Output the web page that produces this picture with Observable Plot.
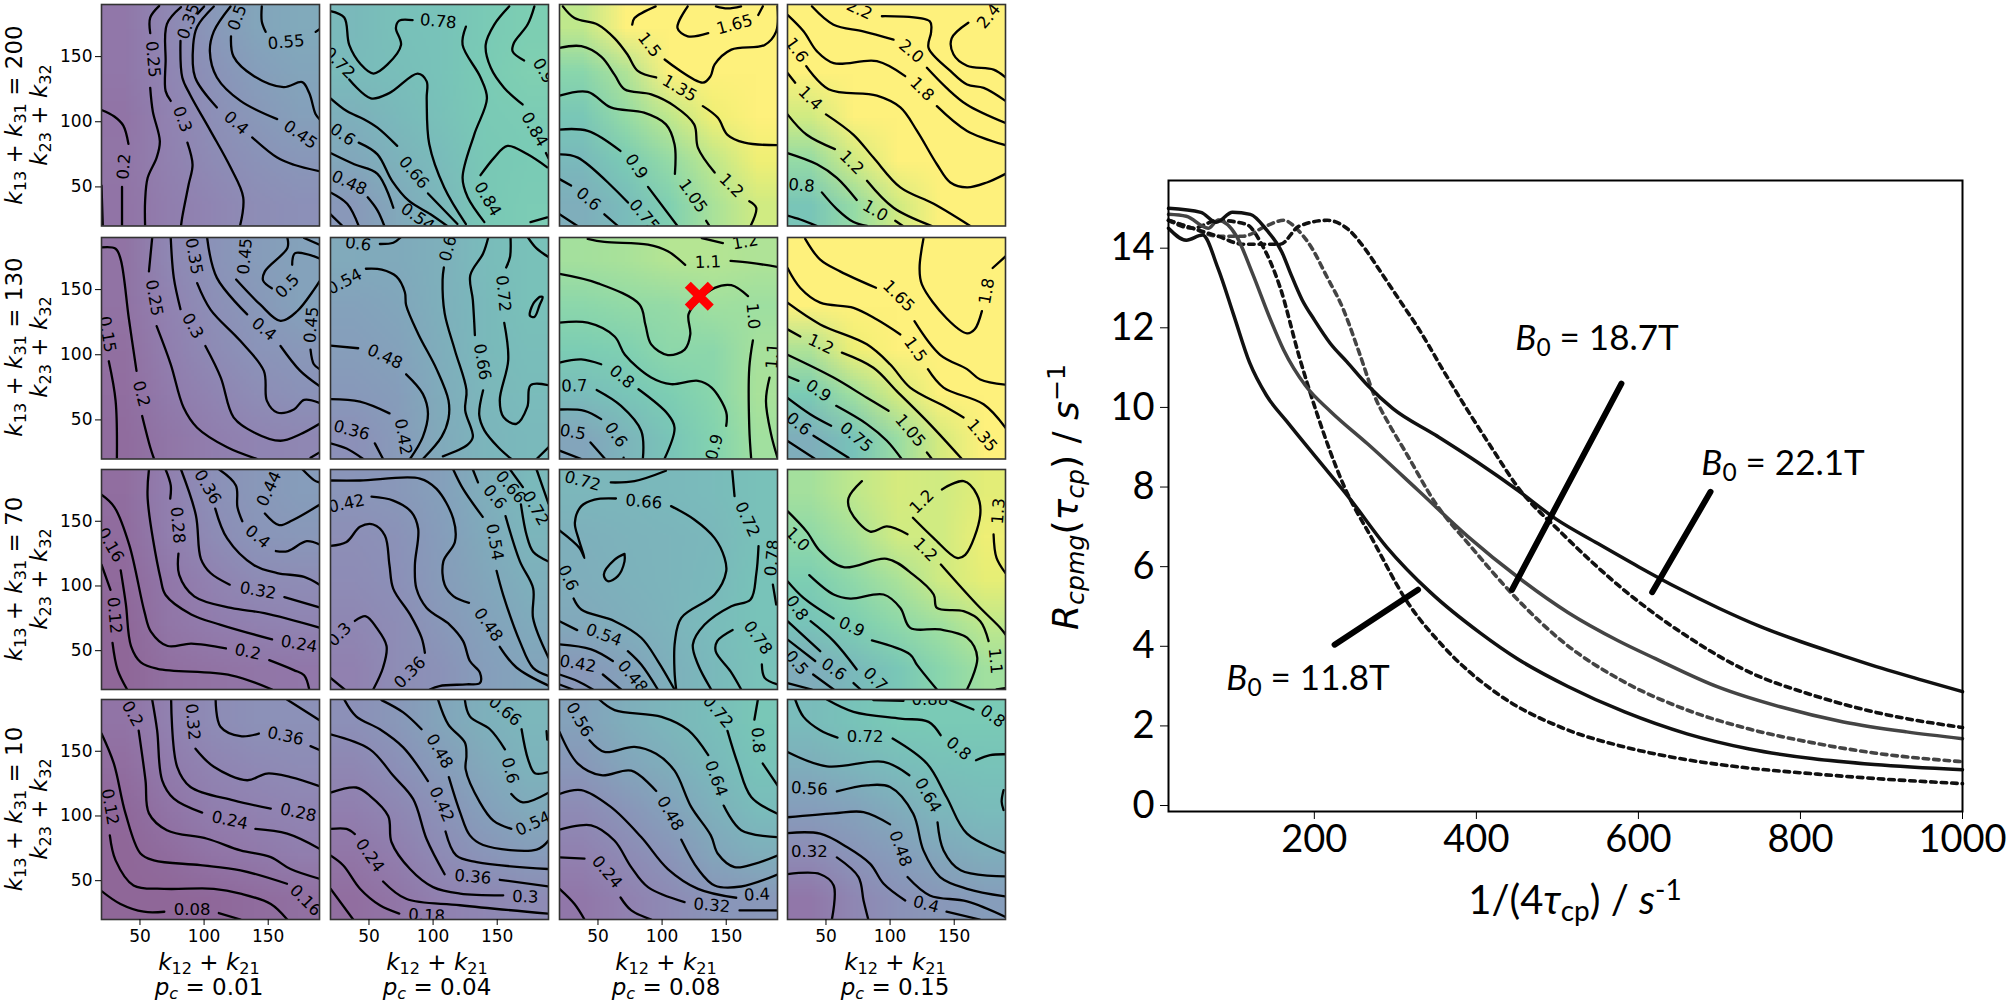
<!DOCTYPE html>
<html><head><meta charset="utf-8">
<script src="https://cdn.jsdelivr.net/npm/d3@7"></script>
<script src="https://cdn.jsdelivr.net/npm/@observablehq/plot@0.6"></script>
<style>
html,body{margin:0;padding:0;background:#fff}
#fig{position:relative;width:2010px;height:1008px;overflow:hidden;background:#fff}
#fig>svg,#fig>figure{position:absolute;margin:0}
.t{position:absolute;white-space:nowrap;transform:translate(-50%,-50%);font-family:"DejaVu Sans";font-size:23px;color:#000;line-height:1}
.t.r{transform:translate(-50%,-50%) rotate(-90deg)}
.t sub{font-size:.7em;vertical-align:-.25em;line-height:0}
.t sup{font-size:.7em;vertical-align:.5em;line-height:0}
.a{font-family:Lato;font-size:35px}
</style></head><body><div id="fig"></div>
<script>
// Field values on a 5x5 grid, top row first
const gR1C1=[.2,.3,.42,.52,.56, .2,.29,.38,.47,.52, .18,.27,.35,.42,.48, .19,.26,.32,.38,.41, .18,.24,.29,.34,.36];
const gR1C2=[.7,.76,.78,.84,.88, .72,.74,.78,.85,.9, .62,.7,.76,.84,.86, .54,.63,.72,.83,.85, .42,.55,.68,.83,.86];
const gR1C3=[1.15,1.35,1.5,1.6,1.65, .95,1.1,1.35,1.5,1.55, .82,1,1.15,1.3,1.4, .7,.85,1,1.15,1.3, .6,.72,.9,1.08,1.2];
const gR1C4=[1.7,2,2.1,2.3,2.4, 1.5,1.7,1.9,2.2,2.4, 1.2,1.45,1.7,1.9,2, 1,1.2,1.45,1.6,1.7, .8,1,1.2,1.4,1.5];
const gR2C1=[.17,.3,.38,.45,.5, .17,.27,.35,.42,.5, .15,.25,.32,.39,.42, .14,.22,.28,.34,.38, .13,.19,.24,.28,.3];
const gR2C2=[.56,.57,.62,.72,.76, .5,.53,.62,.7,.76, .47,.5,.6,.7,.74, .43,.46,.58,.68,.72, .36,.44,.56,.66,.7];
const gR2C3=[1.06,1.08,1.12,1.12,1.1, .96,.99,1,1.05,1.04, .87,.9,.97,.96,1.07, .72,.8,.88,.95,1.08, .52,.65,.8,.92,1.05];
const gR2C4=[1.6,1.7,1.85,1.85,1.8, 1.35,1.5,1.7,1.8,1.85, 1.1,1.3,1.5,1.65,1.8, .85,1.05,1.22,1.45,1.55, .6,.78,1.02,1.22,1.35];
const gR3C1=[.14,.25,.36,.42,.46, .13,.24,.32,.4,.42, .12,.2,.27,.32,.34, .1,.19,.23,.26,.28, .1,.15,.17,.19,.2];
const gR3C2=[.4,.42,.48,.6,.7, .35,.38,.46,.57,.66, .33,.36,.45,.53,.62, .3,.34,.42,.5,.57, .26,.34,.38,.47,.52];
const gR3C3=[.68,.68,.7,.72,.76, .62,.64,.66,.69,.76, .6,.63,.66,.7,.78, .55,.6,.65,.72,.78, .42,.5,.62,.7,.77];
const gR3C4=[1.06,1.15,1.22,1.2,1.26, .98,1.08,1.2,1.2,1.3, .88,.98,1.08,1.2,1.27, .78,.88,.97,1.05,1.15, .58,.7,.82,.95,1.05];
const gR4C1=[.18,.26,.33,.37,.37, .14,.22,.28,.31,.33, .11,.18,.24,.27,.29, .1,.13,.18,.21,.24, .08,.1,.11,.13,.15];
const gR4C2=[.36,.42,.52,.62,.68, .3,.36,.45,.55,.64, .25,.3,.38,.48,.56, .19,.24,.32,.4,.45, .14,.19,.26,.3,.32];
const gR4C3=[.5,.6,.68,.74,.82, .42,.52,.6,.7,.78, .32,.4,.5,.62,.72, .26,.32,.4,.52,.6, .2,.26,.32,.4,.42];
const gR4C4=[.72,.78,.84,.84,.84, .6,.66,.72,.76,.78, .46,.5,.58,.68,.72, .32,.4,.46,.54,.6, .2,.3,.38,.42,.46];

// Contour paths, each as x,y,x,y... in rate units
const cR1C1=[[20,109,30,104,37,97,41,83],[36,50,36,20],[20,51,21,20],
[65,189,58,180,58,168],[58,126,60,108,65.5,85,63,72.5,56,57,54,39,54,20],
[82,188,71,175,70,146.5,70,123.5,74,116],[87,84,91,67,88,52,83,27,82,20],
[100,188.5,95,183],[81.6,162,83,134,89,121,105,93,120.6,65,130.5,42,128,20],
[107.6,188.5,94.6,173,91.5,159,93,134,110,111],[137.5,88,157,72.5,170,67,190,62],
[120.6,188.5,107.6,169.4,104.5,154,110,134,128.4,116,157,102],
[121,165.6,123,150,139,135,162,126.6,176.5,130.4,182,122,187,105.7,190,102],
[145,188.5,145,177,148,169],[187,169,190,171]];
const lR1C1=[[37.6,65.6,"0.2",-85],[60,148,"0.25",85],[83,102,"0.3",70],[88,177,"0.35",-70],[125,99,"0.4",42],[175,90,"0.45",35],[126,180,"0.5",-70],[164,161,"0.55",-5]];

const cR1C2=[[20,185,30.7,180,34.6,159,43.7,144,53.5,137,64.5,144,75,159,71,172,73.6,177.6,84,178],
[125.6,173,123,159,137,134,142,118,132,90,123,57,127,42,140,23],
[34.6,132.5,51.5,118,65.8,122,88,137,95,131,95,118,97,83,108.7,49.6,125.6,21.5],
[20,118,33,108,46,102,56.6,95.5,72,81.5],[96,45,119,21.5],
[42,84,56.6,75,68,54.7,81,39.4,98,29,111,20],[20,76,38.5,67.4,56.6,60,69,34],
[49,42,56.6,32,62,20],[20,45.7,33,37,42,20],[20,29,29.4,20],
[179,188.6,173.7,174.6,163,160.5,162,154,171,147],
[159.4,188.6,147.7,174.6,141,159,145,141.4,155.5,126,169.8,113.3],[188,76,190,72],
[137,59,147.7,72.5,158,81.5,173.7,75,189,65],[176,23,189,26.6]];
const lR1C2=[[104,177,"0.78",5],[26.8,145,"0.72",45],[85,61,"0.66",50],[29.4,90,"0.6",35],[34.6,53,"0.48",25],[88,26.6,"0.54",35],[142.5,40.6,"0.84",60],[179,94,"0.84",60],[186,139,"0.9",60]];

const cR1C3=[[22.6,188.6,31.7,179.6,50,174.5,63,164,73,151.6,81,139,95.4,134],[131.8,112,143.5,103,151,90,164.3,84,190,82],
[20,156.7,37,158,52.5,150,63,136,70.7,125,91.5,121,109.7,112,125,98,128,80,141,61],[168,39,173.4,34,169,20],
[20,120,42,123,60,111,86,107,103,98,109.7,82.7,110,60],[134.4,24,137,20],
[20,94,42,93,67.5,77.6],[89,50,112,20],[20,75,34.3,72.5,73.4,38],
[20,56,29,51],[55,29,65.6,20],[20,29,34,20],
[95,188.6,78.5,179.6,76.7,174.5],[102,147.8,131.8,130,137.8,135,141,144,154,155.4,180,159,189,169.4,190,188.6],
[120,188.6,112,172,120,165.6,136,168],[175,182,178.6,188.6],[142,188.6,151,187,161.6,188.6]];
const lR1C3=[[113.6,125.6,"1.35",30],[90,159,"1.5",52],[156.5,174.5,"1.65",-15],[154,51,"1.2",45],[124,43,"1.05",55],[80,65.6,"0.9",55],[86,28,"0.75",50],[42.6,40.6,"0.6",40]];

const cR1C4=[[39,188.6,55.9,174.5,79,169.4,102.7,163],[128.7,141.4,144,126,160,113,190,99],
[93.6,181,131,177,132,169,130,156.7,147,139,160,128.6,173,126,190,116],
[161,176,148,164,149.5,151.6,160,143,180.7,140,190,134],
[20,182,32.5,169.4,43,154,56,145,89.7,146.5,111.8,135],[136.5,112,160,93,190,82],
[34.6,142.7,52,125,89.7,120,108,111,121,93,136.5,67.4,147,53.4,160,49.6,175.5,53.4,190,60],
[20,137.5,26,130],[50,105.7,71.5,90,87,72.5,108,49.6,134,37,162.5,20],
[20,105.7,35,90,57,79],[82,54.7,102.7,34,132.6,20],
[20,76,43,67.4,58.5,57,74,40],[104,24,110,20],
[46.8,45.8,58.5,33,71.5,23,82,20],[20,28,30,25,43,20]];
const lR1C4=[[76,186,"2.2",25],[116.5,154,"2.0",40],[177,181,"2.4",-50],[124.8,125,"1.8",45],[27,155,"1.6",55],[37.7,118,"1.4",45],[70,68.7,"1.2",45],[88.4,31.7,"1.0",30],[31,51,"0.8",5]];

const cR2C1=[[20,182.4,31,181.4,35,173,41.3,128,47.3,87.6],[51.7,53,58,29,61,20],
[25.7,95,31,64.6,32,20],[59.5,189.6,57,164],[63,122,74,92.7,84,59.5,94.6,44,118,29,141.4,20],
[74,189.6,76.4,159,81.6,135],[101,106.7,113,82.5,123,52,139,40.4,159.6,34,175,39,190,47],[183,21,190,25],
[94.6,155,105,134.7,128.4,110.5,146.6,87.6,149,64.6,157,55.7,170,58,178,65.4,190,63],
[102.4,189.6,110,159,133.6,131],[159.6,106.7,175,87.6,190,76],
[125,157.7,143.7,138.6,159.6,126,172.5,133.4,190,156.4],
[165,189.6,165,182,147.4,164,146,157,152.8,151],[168.7,169,171,178,190,174],[178,189.6,190,184.5],
[183,104,185.6,92.7,190,89]];
const lR2C1=[[24.4,115.6,"0.15",80],[61,143.7,"0.25",80],[91,122,"0.3",60],[92,175.6,"0.35",80],[146.6,119.5,"0.4",40],[132,175.6,"0.45",-85],[165,152.6,"0.5",-45],[183.8,123,"0.45",-85],[51,70,"0.2",75]];

const cR2C2=[[58.5,185,69,186,74.6,190],
[47.6,166,60,165.4,71.5,160,78,148,79,138,88.4,116,102.7,89,112,65,112,51,106.6,37,92,20],
[108.4,167,107.4,157.6,109,132,117,103.5,126,73,125,57.6,131,37,127,31,107.6,22],
[143,190,139,177.7,129,161,131,142,132.6,115],[139,72.7,136,53.6,140,42,150.8,29,161,20],
[160.4,190,160,175,157,167],[155.5,124.5,158.6,96,152,65,155,52,165,47,173.5,60,176,76.6,190,76.6],
[183,144.4,178,139,175.5,130,179,129,183,138,185.4,144.4,183,144.4],
[174,190,180.7,181.6,190,175],[180.7,20,190,29],
[20,107,41.6,105],[79,85,92,70,96,55,92,37,82,20],[20,66,43,64,66,55],[54.6,32,61,20],[20,32,32.5,28,45.5,20]];
const lR2C2=[[41.6,185,"0.6",8],[31,156,"0.54",-28],[111.8,181.5,"0.6",-75],[138.3,94.5,"0.66",80],[154.7,147,"0.72",85],[62.4,98.4,"0.48",25],[76.7,37,"0.42",80],[36.4,42,"0.36",15]];

const cR2C3=[[42,189,55,186.6,89,184.5,104.5,179.4,118,169],[153.4,172,169.5,170.5,190,167.4],[131,189.6,147.4,185.7],
[20,162,50,154.8,82.4,138.6,87,123,91.5,108,104.5,99.8,117.6,104,122,115.6,120.6,131,127.8,141,141,151.3,154,153.4,167,145],
[170.8,111,168,90,168,44,169.5,20],
[20,124.6,42,124.6,63,114,71,100,91.5,82.5,107,77.4,128,80,138.6,74.8,150,56,150,45.5],
[20,94,37,96.5,52.5,92.7],[81.6,73.5,104.5,54.4,109.7,44,101.8,20],
[49,73,68,60.8,83.7,41.7,85,20],[20,58,39.5,57,52.5,50.6],[70,21,70,20],
[44.2,32.7,55.6,20],[20,26.4,37,20],[183.8,82.5,181,64.6,185,39,190,21]];
const lR2C3=[[135.7,171,"1.1",-2],[164.8,186.5,"1.2",-10],[170.8,129.6,"1.0",85],[141,29,"0.9",-75],[68.6,83,"0.8",40],[31.7,76,"0.7",-2],[64,38.6,"0.6",55],[30.4,40.4,"0.5",10],[186.4,99,"1.1",-85]];

const cR2C4=[[33.8,189,45.5,173,61,164,89,151.4],[119,125.8,139,100,160,89,170.3,81,190,77],
[126,189,123,166.6,124.8,154,144,128,160,116.4,166,119.5,171.6,133.5],[180,166.6,190,175.5],
[20,166.6,30,151.3,45.5,140,71.5,136,89.7,127,108,115.6],[129.5,88.9,141.7,74.8,172.9,62,190,44],
[20,139.9,45.5,123.3,81.9,108,100,92.7,115.7,74.8,141.7,60.8,157.3,51.9],
[20,119.5,30,114],[62.4,101.6,87,90,105,72.3,131,46.8,156,20],
[20,100,55.9,82.5,81.9,67,98.8,57],[128.7,25,132.6,20],
[20,83.5,28.6,80],[58,60.8,81.9,46.8,97.5,34,109,20],
[20,66.9,37.7,54.4,54,45.5],[40.3,37.9,67.6,21],[20,33.8,41.6,20]];
const lR2C4=[[106.6,145,"1.65",45],[175.5,148.8,"1.8",-80],[119.6,104,"1.5",55],[171.6,37.9,"1.35",50],[46,108,"1.2",25],[115.7,41.7,"1.05",50],[44,72.3,"0.9",35],[73.6,36.6,"0.75",40],[28.6,46.8,"0.6",40]];

const cR3C1=[[20,170.5,30,161,41.7,131.6,53.5,80,58.5,64.8,71.6,53.6,90,55.5,117,51.7],[150.8,42.7,170,35,178,31,182,20],
[35,112,39,86,43,53.6,50.7,41,63.7,36,121,31,153,20],[20,116.5,27,97],[28.6,56,32.5,35.4,40,20],
[57,190,56,167.5,66,106,70,93,90,78,113,70,153,58.7],[70,190,74,177.7,73.6,167.5],
[80,125,80.6,108.6,92.3,92,121,83,147,79,190,67.8],
[82,190,93.6,154.7,97.5,121,105,110,120,101],[162.6,91.4,190,83.5],
[108.7,159.8,118,136.7,139,116,157,110,178,107,190,101],
[111.8,190,124.8,177.7,126,161,129.8,150],[156,127,165.4,127,180,134.6,190,132],
[147.4,156,158.6,147,169,150.8,190,162.7],[176.8,190,186,181.6,190,180]];
const lR3C1=[[27,131.6,"0.16",60],[30,77.3,"0.12",85],[134,49,"0.2",12],[174,55,"0.24",10],[79.3,147,"0.28",85],[142,96.3,"0.32",10],[102.7,176.4,"0.36",60],[141.7,138,"0.4",40],[150.8,175,"0.44",-65]];

const cR3C2=[[20,181.5,43,181.5,89.7,183,102.7,175,115.7,152,117,134,108,119,109,101,116,92,128,87],[152,53,165,37,190,23],
[52,169,69,166,83.2,157,88.4,144,85.8,116,87,98,95,83,113,70,123.4,57.4,128.7,42,136.5,33,136.5,25,126,24,105,22.7,97.5,20],
[20,131,32.5,134,43,145.7,53.3,147.5,62.4,139,66,116,68.9,98,82,78,91,60,93.6,48.4],
[39,73,47.6,76.6,56,67.6,63.7,53.6,61,37,53.3,20],[20,29,31,20],
[115.7,190,123.4,175,138.7,153.4],[149.5,111.7,154.7,93,167.7,57,178,36.7,190,30.5],
[131,190,135,180],[156.5,154,167.7,119,178,98.3,178,75,190,44.6],
[168.5,163,173,139,178,126.5,190,119],[160,190,170,176.4],[180.7,190,190,163.6]];
const lR3C2=[[32.5,163.6,"0.42",-12],[143,70,"0.48",55],[82,33,"0.36",-45],[27,62.5,"0.3",-45],[148,134,"0.54",80],[148,168.7,"0.6",50],[160.4,176.4,"0.66",50],[179.8,160,"0.72",60]];

const cR3C3=[[60,180,78.5,181,103,189],[154.7,189,156.5,169.4],
[175.2,130.8,173.4,109,169,89.6,154,84.4,133,70,124,54.8,128,39.3,138.3,20],
[64,167.6,47.3,166.8,37,161.7,32,149,35,136,39.5,121.7,35.6,129.4,20,143],
[107,161.7,125,151.4,141,137,148.7,121.7,150,111.4,141,93.4,115,75.4,110,57,109.7,34,111,20],
[70.7,124.8,63,120.4,54.6,108.9,57.7,103.7,65.5,107.6,70.7,119,70.7,124.8],
[31,90.3,37,81.8,63,72.8,83.7,60,96.7,42,109.7,20],[20,72.8,33.8,65.9],[73.3,49.6,83.7,39.3,96.7,20],
[20,54.8,44.7,51,61.6,42],[53.8,31.6,68,20],[20,31.6,34.3,26.4,46,20],[20,23.9,30.4,20],
[155,66,143,57.4,141.8,49.6,153.4,34,161.7,20],[177.8,39.3,180,29,190,23.9],[186.4,101,189,85.7]];
const lR3C3=[[38,181,"0.72",15],[166.4,151.4,"0.72",65],[85.8,165,"0.66",5],[26.5,106.3,"0.6",65],[54.6,62,"0.54",20],[77,30,"0.48",50],[34.3,39.8,"0.42",10],[174.7,60,"0.78",55],[186,121.7,"0.78",-85]];

const cR3C4=[[78,181,67.6,168,69,158,84.5,142,97.5,146,113.6,140],[139.6,116.6,167.7,85.7,186,67.6,190,62.5],
[117.8,152.7,134,137,152,121.7,158.6,124,170.3,155,167.7,170.6,157.4,181,140.4,174.6],
[180.7,139.8,183,121.7,190,110],
[20,157.8,35,142,45.5,126.9,63.7,114.5,97.5,121,118,108.8,134,93.4,136.5,83,157.3,80.5,170.3,72.8,176.8,57.4],[183,20,190,21],
[37,108.4,56,93.4,69,90.3,94.9,93.4,108,83,115.7,67.6,139,66.4,160,60,168,44.5,160,20],
[20,103.7,32.5,90.8,56,74.9],[85.8,57.9,115.7,47,121,39,136.5,20],
[38,72.8,56,57.4,74,35.5],[20,72.8,45.5,49.6],[71.5,25,77,20],[20,58.6,41.6,42],[40,31.6,56,20],[20,25,39,20]];
const lR3C4=[[127.4,128,"1.2",45],[124.8,165,"1.2",-45],[184.6,157.8,"1.3",-85],[27.8,136,"1.0",45],[182,42,"1.1",85],[70,68.2,"0.9",25],[27.3,83,"0.8",55],[88.4,27.7,"0.7",45],[56,35.5,"0.6",35],[27,40.6,"0.5",50]];

const cR4C1=[[20,163.7,29.6,140.6,38.7,102,50.4,71,60.8,65.7,97,62,128.4,58,164.6,47.6],
[26.5,85,31,65.7,45,46.3,68.6,43.7,107.6,43.7,128.4,40,152,32,164.8,20],
[20,42,34.8,32,53,26,69,26],[111.5,25,128.4,20],
[140,90,164.8,86.3,190,74.7],
[49,166,54.3,127.6,57,102,71,89,102.4,82.4,128.4,73.4,152,68.2,167.4,59,190,51.5],
[59.5,190,63.4,166,67.3,127.6,76.4,113.4,98.5,102.6],
[74.3,190,79,138,89.4,122.4,123,112,152,105.7],
[93.3,152,107.6,138,133.6,127.6,149,132.8,167.4,130,190,123],
[109,190,112.8,169,128.4,161.7,142.7,163.7],[183,154,190,151],[164.6,190,190,174]];
const lR4C1=[[44,179,"0.2",60],[179,34.7,"0.16",45],[26.5,107,"0.12",80],[90.7,27.5,"0.08",0],[120,96.6,"0.24",12],[173.4,102.6,"0.28",12],[91,172.7,"0.32",85],[163.5,161.7,"0.36",12]];

const cR4C2=[[124.8,189.5,128.7,177,144.3,167,156,151.5],[161,117,170,110.5,190,118],
[169,167,174,144,179.4,133,190,134],[188.5,165.6,189,159],
[59.8,189.5,76.7,180,91,167],[112.3,130,121,103,128.7,85,139,77.6,180.7,74,190,81],
[104,189.5,111.8,170.8,124.8,156.7,126,146.4,125.4,136,136.5,110.5,147,96.4,161,90],
[31,189.5,40,177,58.5,167,76.7,153,96,127],[109.7,88,118,69.5,134,64.3,190,59],
[20,163,50.7,151.5,69,131,84.5,113,95,82,109,55],[152,50.7,190,45.6],
[20,118,40,122,50.7,115.6,65,100,67.6,79.7,82,59,100,45,121,40,154.7,38.7],
[20,90,32.5,90,39,86],[61,49.4,79,36,121,31,190,24.5],
[20,69.4,30,61.7,43,43.8,58.5,31,73.6,24.6],[20,43.8,37.7,20]];
const lR4C2=[[156,181,"0.66",40],[160,135,"0.6",75],[105,150,"0.48",60],[178,94,"0.54",-25],[106.6,109,"0.42",65],[131,52.8,"0.36",5],[172,37.4,"0.3",2],[50.7,69.4,"0.24",55],[95,23,"0.18",3]];

const cR4C3=[[43.4,158.5,55,149.5,78.5,153.4,95.4,148,109.7,135,122.7,107,138,85,143.5,70.8,156.5,60.5,172,63,190,69.5],
[51,190,63,181.8,99.6,176.6,120.4,166.3,136,147],[148,108,161.7,89,190,83.7],
[151,165.8,159,140.5,169.5,114.7,190,101.8],[174.7,190,172,174.5],[178.5,140.5,190,123.7],
[20,165,34.3,140.5,52.5,131.5,76,135,95.4,119.3],[115,81.7,128,59,141,46.3,161.7,45.5,190,54.8],
[20,117,37,120,60,107,83.7,83.7,104.5,59,128,43.7,157.8,36.8],
[20,89.4,44.7,92.8,62.8,81,75.9,60.5,89,45,117.5,33.4],[160.4,27,190,27],
[20,68,39.5,67],[67.6,37,76,27,91.5,20],[20,43.7,31.7,32,39.5,20]];
const lR4C3=[[35.6,174.3,"0.56",60],[142,129,"0.64",70],[143.5,180.5,"0.72",50],[174.7,158.5,"0.8",85],[106.3,101.8,"0.48",60],[174,39,"0.4",-3],[138.8,30.8,"0.32",5],[57,56.6,"0.24",50]];

const cR4C4=[[26,190,32.5,176.6,45.5,166.3,59,160.6],[102,159.8,128.7,140.5,144,114.7,160,86.3,190,71.3],
[50.7,190,71.5,180.5,108,175.3,130,172.7,139.4,162.4],[167,143,178,147,190,147.7],
[87,189.5,110.5,189],[147,189.5,165,182.3],
[20,149.5,50.7,138.4,95,141.8,115,131.5],[137,95,141.7,73.4,155,58,190,53.3],
[58.5,119,82,123.7,100,122.4,118,101.8,126,73.4,139,52.8,160,43.7,190,37.8],
[20,99,56,102,79.3,103,100,93.5],[113.6,52.8,131,38.6,160,34,190,22],
[20,86.8,45.5,86.3,66.3,76,84.5,63,95,47.6,111.8,34.7],[144,26,170,20],
[58.5,68,75.4,52.8,79.3,34.7,83,20],[20,55,45.5,55,56,46.3,54.6,20],
[188.5,120,187,111,188.5,104.6]];
const lR4C4=[[80.6,161.6,"0.72",0],[153.4,152,"0.8",40],[131,189.6,"0.88",0],[180,177,"0.8",35],[129.5,116,"0.64",60],[37,121,"0.56",3],[108,74.7,"0.48",70],[128,31.6,"0.4",15],[37,72,"0.32",0]];

// Row / column headings and the marked point
const rowSums=[200,130,70,10];
const colPc=["0.01","0.04","0.08","0.15"];
const marked=[{x:129,y:145}];
const tickValues=[50,100,150];

// Dispersion curves
const sol22x=[20,60,79,99,121,141,160,170,185,200,220,240,266,297,350,401,451,498,550,600,650,700,750,800,850,900,950,1000];
const sol22y=[15,14.9,14.65,14.9,14.85,14.46,13.9,13.4,12.7,12.2,11.6,11.15,10.55,9.97,9.3,8.63,7.92,7.2,6.58,6,5.45,4.95,4.5,4.12,3.78,3.45,3.15,2.86];
const sol18x=[20,42,69,81,104,123,146,162,189,220,266,328,390,451,513,575,621,698,775,853,931,1000];
const sol18y=[14.85,14.8,14.5,14.7,14.3,13.4,12.2,11.45,10.55,9.9,9.08,7.92,6.75,5.74,4.85,4.14,3.69,2.98,2.48,2.1,1.85,1.68];
const sol11x=[20,42,62,81,100,120,141,166,204,243,289,343,405,451,513,583,660,737,814,891,1000];
const sol11y=[14.5,14.2,14.33,13.5,12.35,11.13,10.3,9.65,8.7,7.73,6.5,5.36,4.33,3.68,2.99,2.35,1.8,1.42,1.18,1.03,.9];
const dot22x=[20,42,81,112,158,181,216,243,262,282,305,328,360,390,420,451,505,583,660,737,814,891,1000];
const dot22y=[14.7,14.55,14.3,14.1,14.1,14.55,14.7,14.45,14,13.4,12.7,12,10.9,9.9,8.95,8,6.85,5.4,4.25,3.35,2.78,2.35,1.96];
const dot18x=[20,50,81,112,140,162,180,197,215,235,255,274,293,312,351,390,451,505,583,660,737,814,891,1000];
const dot18y=[14.7,14.5,14.3,14.3,14.55,14.7,14.45,14,13.3,12.5,11.4,10.3,9.55,8.9,7.55,6.58,5.17,4.14,3.1,2.4,1.92,1.58,1.32,1.1];
const dot11x=[20,50,81,116,135,158,181,204,235,274,312,359,428,505,583,660,737,814,891,1000];
const dot11y=[14.7,14.5,14.7,14.6,14.1,13,11.3,9.8,8.1,6.6,5.2,4,2.78,1.96,1.47,1.15,.94,.8,.68,.55];
const leader18=[[579,10.6],[444,5.42]];
const leader22=[[689,7.88],[617,5.36]];
const leader11=[[328,5.42],[225,4.04]];
const yTicks=[0,2,4,6,8,10,12,14];
const xTicks=[200,400,600,800,1000];

const fig=document.getElementById("fig");
const grids=[[gR1C1,gR1C2,gR1C3,gR1C4],[gR2C1,gR2C2,gR2C3,gR2C4],[gR3C1,gR3C2,gR3C3,gR3C4],[gR4C1,gR4C2,gR4C3,gR4C4]];
const conts=[[cR1C1,cR1C2,cR1C3,cR1C4],[cR2C1,cR2C2,cR2C3,cR2C4],[cR3C1,cR3C2,cR3C3,cR3C4],[cR4C1,cR4C2,cR4C3,cR4C4]];
const labs=[[lR1C1,lR1C2,lR1C3,lR1C4],[lR2C1,lR2C2,lR2C3,lR2C4],[lR3C1,lR3C2,lR3C3,lR3C4],[lR4C1,lR4C2,lR4C3,lR4C4]];
const L=[101,330,558.5,787.3],T=[3.5,236.5,468.5,699.3],W=218,H=[221.5,221.5,220,220];
const ml=50,mb=34,mt=3,mr=4;
const flat=list=>list.flatMap((a,s)=>{const r=[];for(let i=0;i<a.length;i+=2)r.push({x:a[i],y:a[i+1],s});return r;});

grids.forEach((row,r)=>row.forEach((g,c)=>{
  const labels=labs[r][c].map(([x,y,t,a])=>({x,y,t,a}));
  const marks=[
    Plot.raster(g,{width:5,height:5,x1:20,x2:190,y1:190,y2:20,fill:d=>d,fillOpacity:.6}),
    Plot.line(flat(conts[r][c]),{x:"x",y:"y",z:"s",stroke:"#000",strokeWidth:2.3,curve:"catmull-rom",clip:true}),
    Plot.text(labels,{x:"x",y:"y",text:"t",rotate:"a",fill:"#000",fontSize:16.5,clip:true})
  ];
  if(r===1&&c===2)marks.push(Plot.dot(marked,{x:"x",y:"y",symbol:"times",r:10.5,stroke:"#ff0000",strokeWidth:8.5}));
  marks.push(Plot.frame({stroke:"#333",strokeWidth:1.6}));
  if(c===0)marks.push(Plot.axisY({ticks:tickValues,tickSize:6,fontSize:17,label:null,tickPadding:3}));
  if(r===3)marks.push(Plot.axisX({ticks:tickValues,tickSize:6,fontSize:17,label:null,tickPadding:4}));
  const p=Plot.plot({width:W+ml+mr,height:H[r]+mt+mb,marginLeft:ml,marginRight:mr,marginTop:mt,marginBottom:mb,
    x:{domain:[20,190],axis:null},y:{domain:[20,190],axis:null},
    color:{type:"linear",scheme:"viridis",domain:[.1,1.35],clamp:true},
    style:{fontFamily:"DejaVu Sans",background:"transparent",overflow:"visible"},marks});
  p.style.left=(L[c]-ml)+"px";p.style.top=(T[r]-mt)+"px";
  fig.appendChild(p);
}));

const toPts=(xs,ys)=>xs.map((x,i)=>({x,y:ys[i]}));
const lead=a=>a.map(([x,y])=>({x,y}));
const big=Plot.plot({width:794+110+50,height:631+10+90,marginLeft:110,marginRight:50,marginTop:10,marginBottom:90,
  x:{domain:[20,1000],axis:null},y:{domain:[-.15,15.7],axis:null},
  style:{fontFamily:"Lato",background:"transparent",overflow:"visible"},
  marks:[
    Plot.line(toPts(dot11x,dot11y),{x:"x",y:"y",stroke:"#111",strokeWidth:3.6,strokeDasharray:"5.5 5",curve:"monotone-x"}),
    Plot.line(toPts(dot18x,dot18y),{x:"x",y:"y",stroke:"#444",strokeWidth:3.6,strokeDasharray:"5.5 5",curve:"monotone-x"}),
    Plot.line(toPts(dot22x,dot22y),{x:"x",y:"y",stroke:"#111",strokeWidth:3.6,strokeDasharray:"5.5 5",curve:"monotone-x"}),
    Plot.line(toPts(sol11x,sol11y),{x:"x",y:"y",stroke:"#111",strokeWidth:3.5,curve:"monotone-x"}),
    Plot.line(toPts(sol18x,sol18y),{x:"x",y:"y",stroke:"#444",strokeWidth:3.5,curve:"monotone-x"}),
    Plot.line(toPts(sol22x,sol22y),{x:"x",y:"y",stroke:"#111",strokeWidth:3.5,curve:"monotone-x"}),
    Plot.line(lead(leader18),{x:"x",y:"y",stroke:"#000",strokeWidth:6}),
    Plot.line(lead(leader22),{x:"x",y:"y",stroke:"#000",strokeWidth:6}),
    Plot.line(lead(leader11),{x:"x",y:"y",stroke:"#000",strokeWidth:6}),
    Plot.frame({stroke:"#000",strokeWidth:2}),
    Plot.axisX({ticks:xTicks,tickSize:8,fontSize:38,label:null,tickPadding:6,tickFormat:d=>String(d)}),
    Plot.axisY({ticks:yTicks,tickSize:8,fontSize:38,label:null,tickPadding:6})
  ]});
big.style.left=(1168-110)+"px";big.style.top=(179.6-10)+"px";
fig.appendChild(big);

function addText(html,x,y,cls,extra){
  const d=document.createElement("div");d.className="t "+(cls||"");d.innerHTML=html;
  d.style.left=x+"px";d.style.top=y+"px";if(extra)Object.assign(d.style,extra);fig.appendChild(d);
}
[115,347,579,809].forEach((cy,i)=>{
  addText(`<i>k</i><sub>13</sub> + <i>k</i><sub>31</sub> = ${rowSums[i]}`,14,cy,"r");
  addText(`<i>k</i><sub>23</sub> + <i>k</i><sub>32</sub>`,39,cy,"r");
});
[209,437,666,895].forEach((cx,i)=>{
  addText(`<i>k</i><sub>12</sub> + <i>k</i><sub>21</sub>`,cx,962,"");
  addText(`<i>p</i><sub><i>c</i></sub> = ${colPc[i]}`,cx,987,"");
});
addText(`<i>R</i><sub><i>cpmg</i></sub>(<i>τ</i><sub><i>cp</i></sub>) / <i>s</i><sup>−1</sup>`,1066,497,"r",{fontSize:"36px"});
addText(`1/(4<i>τ</i><sub>cp</sub>) / <i>s</i><sup>-1</sup>`,1575,899,"a",{fontSize:"40px"});
addText(`<i>B</i><sub>0</sub> = 18.7T`,1597,336,"a");
addText(`<i>B</i><sub>0</sub> = 22.1T`,1783,461,"a");
addText(`<i>B</i><sub>0</sub> = 11.8T`,1308,676,"a");
</script></body></html>
